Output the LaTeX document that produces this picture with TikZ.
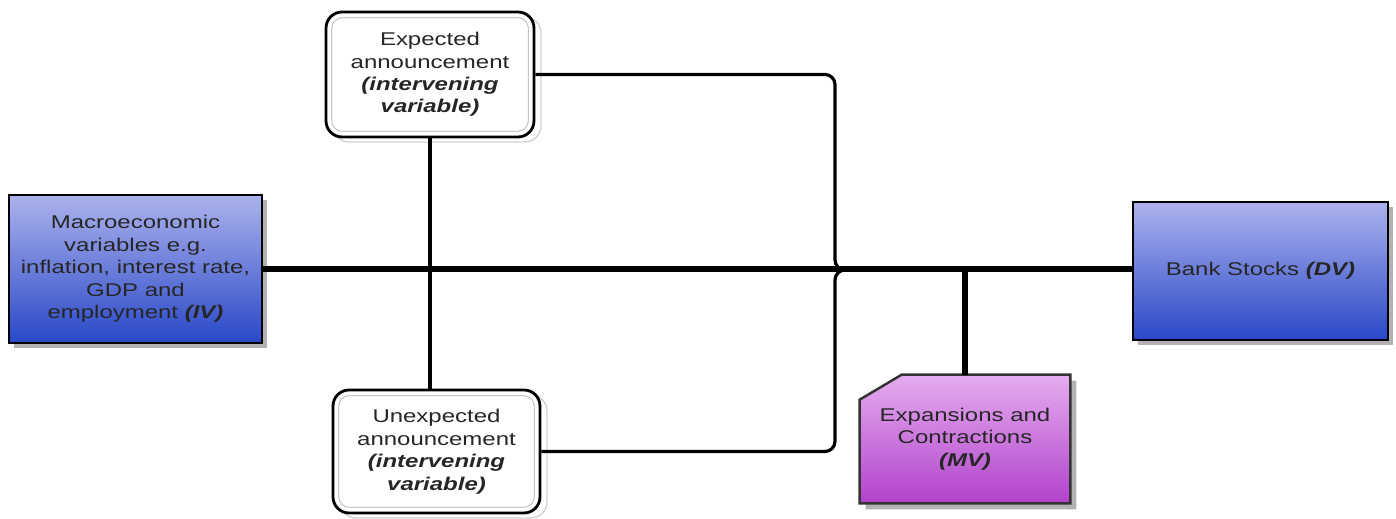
\documentclass[tikz,border=0pt]{standalone}
\usepackage{fontspec}
\setmainfont{Liberation Sans}[FakeStretch=1.3]
\usepackage{xcolor}
\usepackage{tikz}
\usetikzlibrary{shadows, backgrounds}

\definecolor{ivtop}{RGB}{172,178,236}
\definecolor{ivbot}{RGB}{40,72,200}
\definecolor{mvtop}{RGB}{228,172,238}
\definecolor{mvbot}{RGB}{178,66,204}

\begin{document}
\begin{tikzpicture}[x=0.02cm, y=-0.02cm, font=\fontsize{10.5}{12.8}\selectfont]
    % Styles
    \tikzstyle{varbox} = [rectangle, draw=black, line width=1.6pt, top color=ivtop, bottom color=ivbot, align=center, text=black!85, drop shadow={shadow xshift=0.1cm, shadow yshift=-0.1cm, fill=gray!60, opacity=1}]
    \tikzstyle{announce} = [rectangle, rounded corners=0.32cm, draw=black, line width=1.6pt, fill=white, align=center, text=black!85, drop shadow={shadow xshift=0.14cm, shadow yshift=-0.1cm, fill=white, draw=gray!35, line width=0.8pt, opacity=1}]
    \tikzstyle{innerrim} = [draw=gray!45, line width=0.6pt, rounded corners=0.22cm]
    \tikzstyle{mvshape} = [draw=black!80, line width=1.4pt, top color=mvtop, bottom color=mvbot, drop shadow={shadow xshift=0.12cm, shadow yshift=-0.12cm, fill=gray!60, opacity=1}]
    \tikzstyle{link} = [draw, line width=1.8pt]
    \tikzstyle{mainline} = [draw, line width=3.4pt]

    \useasboundingbox (0,0) rectangle (1396,519);

    % --- VARIABLES ---
    \node [varbox, minimum width=5.06cm, minimum height=2.96cm] (iv) at (135.5,269) {Macroeconomic\\variables e.g.\\inflation, interest rate,\\GDP and\\employment \textbf{\textit{(IV)}}};
    \node [varbox, minimum width=5.1cm, minimum height=2.76cm] (dv) at (1260.5,271) {Bank Stocks \textbf{\textit{(DV)}}};
    \node [align=center, text=black!85, minimum width=4.2cm, minimum height=2.56cm] (mv) at (965,439) {Expansions and\\Contractions\\\textbf{\textit{(MV)}}};

    % --- ANNOUNCEMENTS ---
    \node [announce, minimum width=4.16cm, minimum height=2.5cm] (exp) at (430,74.5) {Expected\\announcement\\{\bfseries\itshape (intervening}\\{\bfseries\itshape variable)}};
    \node [announce, minimum width=4.14cm, minimum height=2.46cm] (unexp) at (436.5,451.5) {Unexpected\\announcement\\{\bfseries\itshape (intervening}\\{\bfseries\itshape variable)}};
    \foreach \n in {exp, unexp}
        \draw [innerrim] ([shift={(7,7)}]\n.north west) rectangle ([shift={(-7,-7)}]\n.south east);

    % Moderator box with cut corner
    \begin{scope}[on background layer]
        \path [mvshape] ([shift={(0,25)}]mv.north west) -- ([shift={(42,0)}]mv.north west) -- (mv.north east) -- (mv.south east) -- (mv.south west) -- cycle;
    \end{scope}

    % --- CONNECTIONS ---
    \coordinate (merge) at (835,270);
    \coordinate (mergeend) at (862,270);
    \path [mainline] (iv.east) -- (iv.east -| dv.west);
    \path [mainline] (mv.north) -- (mv.north |- iv.east);
    \path [link] (exp.south) -- (exp.south |- unexp.north);
    \path [link, rounded corners=0.2cm] (exp.east) -| (merge) -- (mergeend);
    \path [link, rounded corners=0.2cm] (unexp.east) -| (merge) -- (mergeend);

\end{tikzpicture}
\end{document}
